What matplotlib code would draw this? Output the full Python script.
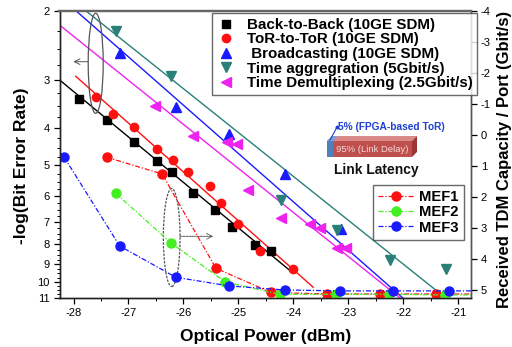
import matplotlib
matplotlib.use('Agg')
import matplotlib.pyplot as plt
from matplotlib.patches import Ellipse, Polygon
from matplotlib.lines import Line2D
from matplotlib.ticker import FixedLocator, FixedFormatter, NullFormatter

plt.rcParams['font.family'] = ['Liberation Sans', 'DejaVu Sans']

# ---------------- data ----------------
b2b_x = [-27.90, -27.40, -26.90, -26.49, -26.20, -25.82, -25.42, -25.11, -24.70, -24.40]
b2b_y = [3.37, 3.82, 4.35, 4.87, 5.21, 5.88, 6.52, 7.20, 8.02, 8.32]

tor_x = [-27.60, -27.29, -26.90, -26.49, -26.19, -25.91, -25.51, -25.31, -25.00, -24.60, -24.00]
tor_y = [3.33, 3.67, 3.98, 4.53, 4.84, 5.21, 5.64, 6.26, 7.08, 8.31, 9.26]

bc_x = [-27.16, -26.14, -25.17, -24.15, -23.14]
bc_y = [2.56, 3.54, 4.15, 5.26, 7.31]

agg_x = [-27.23, -26.22, -24.23, -23.20, -22.25, -21.23]
agg_y = [2.24, 2.94, 6.14, 7.34, 8.80, 9.27]

dmx_x = [-26.52, -25.83, -25.20, -25.02, -24.82, -24.22, -23.70, -23.51, -23.20, -23.04]
dmx_y = [3.51, 4.20, 4.34, 4.41, 5.77, 6.83, 7.09, 7.27, 8.17, 8.15]

# linear-fit lines (start / end)
b2b_fit_x = [-28.26, -24.06]
b2b_fit_y = [3.00, 9.35]
tor_fit_x = [-27.96, -23.64]
tor_fit_y = [2.94, 10.32]
bc_fit_x = [-27.94, -22.01]
bc_fit_y = [2.00, 11.00]
agg_fit_x = [-27.76, -21.39]
agg_fit_y = [2.00, 10.55]
dmx_fit_x = [-28.25, -22.06]
dmx_fit_y = [2.17, 11.00]

# MEF curves (right axis)
mef1_x = [-27.40, -26.39, -25.41, -24.41, -23.39, -22.43, -21.41, -20.50]
mef1_y = [0.71, 1.25, 4.30, 5.08, 5.13, 5.13, 5.13, 5.13]
mef2_x = [-27.23, -26.22, -25.24, -24.25, -23.23, -22.26, -21.25, -20.50]
mef2_y = [1.88, 3.49, 4.74, 5.14, 5.14, 5.14, 5.16, 5.16]
mef3_x = [-28.17, -27.16, -26.14, -25.17, -24.16, -23.16, -22.19, -21.17, -20.50]
mef3_y = [0.71, 3.58, 4.59, 4.87, 5.00, 5.03, 5.03, 5.03, 5.03]

left_ticks = [2, 3, 4, 5, 6, 7, 8, 9, 10, 11]
right_ticks = [-4, -3, -2, -1, 0, 1, 2, 3, 4, 5]
x_ticks = [-28, -27, -26, -25, -24, -23, -22, -21]

series_labels = ['Back-to-Back (10GE SDM)', 'ToR-to-ToR (10GE SDM)', ' Broadcasting (10GE SDM)',
                 'Time aggregration (5Gbit/s)', 'Time Demultiplexing (2.5Gbit/s)']
mef_labels = ['MEF1', 'MEF2', 'MEF3']

# ---------------- layout ----------------
W, H = 512, 347
AX_L, AX_R, AX_T, AX_B = 59.5, 471.0, 11.5, 298.0

def axf(px, py):
    return ((px - AX_L) / (AX_R - AX_L), (AX_B - py) / (AX_B - AX_T))

def ff(px, py):
    return (px / W, 1 - py / H)

C_B2B, C_TOR, C_BC, C_AGG, C_DMX = '#000000', '#ff1010', '#1a1aff', '#2a8078', '#ee22ee'
C_G = '#44ee22'

fig = plt.figure(figsize=(W / 100, H / 100), dpi=100)
ax = fig.add_axes([AX_L / W, 1 - AX_B / H, (AX_R - AX_L) / W, (AX_B - AX_T) / H])
ax.set_yscale('log')
ax.set_xlim(-28.255, -20.77)
ax.set_ylim(11, 2)

lw_fit = 1.0
ax.plot(b2b_fit_x, b2b_fit_y, color=C_B2B, lw=lw_fit)
ax.plot(tor_fit_x, tor_fit_y, color=C_TOR, lw=lw_fit)
ax.plot(bc_fit_x, bc_fit_y, color=C_BC, lw=lw_fit)
ax.plot(agg_fit_x, agg_fit_y, color=C_AGG, lw=lw_fit)
ax.plot(dmx_fit_x, dmx_fit_y, color=C_DMX, lw=lw_fit)

ax.plot(b2b_x, b2b_y, ls='none', marker='s', ms=5.5, color=C_B2B)
ax.plot(tor_x, tor_y, ls='none', marker='o', ms=6, color=C_TOR)
ax.plot(bc_x, bc_y, ls='none', marker='^', ms=7, color=C_BC)
ax.plot(agg_x, agg_y, ls='none', marker='v', ms=7, color=C_AGG)
ax.plot(dmx_x, dmx_y, ls='none', marker='<', ms=7, color=C_DMX)

ax.yaxis.set_major_locator(FixedLocator(left_ticks))
ax.yaxis.set_major_formatter(FixedFormatter([str(t) for t in left_ticks]))
minors = [v / 4 for v in range(8, 44) if v % 4 != 0]
ax.yaxis.set_minor_locator(FixedLocator(minors))
ax.yaxis.set_minor_formatter(NullFormatter())
ax.xaxis.set_major_locator(FixedLocator(x_ticks))
ax.xaxis.set_major_formatter(FixedFormatter([str(t) for t in x_ticks]))
ax.xaxis.set_minor_locator(FixedLocator([t + 0.5 for t in x_ticks[:-1]] + [-20.5]))
ax.tick_params(axis='both', which='major', direction='out', length=4, width=0.9, labelsize=8, pad=3)
ax.tick_params(axis='both', which='minor', direction='out', length=2.2, width=0.7)
ax.tick_params(axis='y', right=False)
ax.tick_params(axis='x', top=False)

ax2 = ax.twinx()
ax2.set_ylim(5.26, -4.0)
ax2.plot(mef1_x, mef1_y, ls=(0, (4, 1.5, 1, 1.5)), lw=0.9, color=C_TOR, marker='o', ms=6.5)
ax2.plot(mef2_x, mef2_y, ls=(0, (4, 1.5, 1, 1.5)), lw=0.9, color=C_G, marker='o', ms=6.5)
ax2.plot(mef3_x, mef3_y, ls=(0, (4, 1.5, 1, 1.5)), lw=0.9, color=C_BC, marker='o', ms=6.5)
ax2.yaxis.set_major_locator(FixedLocator(right_ticks))
ax2.yaxis.set_major_formatter(FixedFormatter([str(t) for t in right_ticks]))
ax2.tick_params(axis='y', which='major', direction='out', length=4, width=0.9, labelsize=8, pad=3)

for a in (ax, ax2):
    for s in a.spines.values():
        s.set_linewidth(1.0)
        s.set_color('#222222')
    a.spines['top'].set_color('#666666')
    a.spines['top'].set_linewidth(1.6)
    a.spines['right'].set_color('#555555')

# legends
h1 = [Line2D([], [], ls='none', marker='s', ms=5.5, color=C_B2B),
      Line2D([], [], ls='none', marker='o', ms=6, color=C_TOR),
      Line2D([], [], ls='none', marker='^', ms=6.5, color=C_BC),
      Line2D([], [], ls='none', marker='v', ms=6.5, color=C_AGG),
      Line2D([], [], ls='none', marker='<', ms=6.5, color=C_DMX)]
leg1 = ax2.legend(h1, series_labels, loc='upper left', bbox_to_anchor=axf(211.7, 13.3),
                  bbox_transform=ax.transAxes, borderaxespad=0, frameon=True, fancybox=False,
                  prop=dict(weight='bold', size=10.9), handlelength=1.3, handletextpad=0.7,
                  labelspacing=0.04, borderpad=0.3, numpoints=1)
leg1.get_frame().set_edgecolor('#444444')
leg1.get_frame().set_linewidth(1.0)
ax2.add_artist(leg1)

h2 = [Line2D([], [], ls=(0, (4, 1.5, 1, 1.5)), lw=0.9, color=C_TOR, marker='o', ms=6.5),
      Line2D([], [], ls=(0, (4, 1.5, 1, 1.5)), lw=0.9, color=C_G, marker='o', ms=6.5),
      Line2D([], [], ls=(0, (4, 1.5, 1, 1.5)), lw=0.9, color=C_BC, marker='o', ms=6.5)]
leg2 = ax2.legend(h2, mef_labels, loc='upper left', bbox_to_anchor=axf(373.3, 185),
                  bbox_transform=ax.transAxes, borderaxespad=0, frameon=True, fancybox=False,
                  prop=dict(weight='bold', size=10.6), handlelength=2.4, handletextpad=0.35,
                  labelspacing=0.08, borderpad=0.35, numpoints=1)
leg2.get_frame().set_edgecolor('#444444')
leg2.get_frame().set_linewidth(1.0)

# ellipses and arrows
e1 = Ellipse(axf(95.7, 63.3), 15 / (AX_R - AX_L), 100 / (AX_B - AX_T), transform=ax.transAxes,
             fill=False, ec='#555555', lw=0.9, zorder=5)
ax.add_patch(e1)
ax.annotate('', xy=axf(73.3, 61.7), xytext=axf(87.8, 61.7), xycoords='axes fraction',
            arrowprops=dict(arrowstyle='->', color='#555555', lw=0.7, shrinkA=0, shrinkB=0))
e2 = Ellipse(axf(171.7, 237.5), 16.7 / (AX_R - AX_L), 98 / (AX_B - AX_T), transform=ax.transAxes,
             fill=False, ec='#555555', lw=0.9, ls=(0, (2, 1)), zorder=5)
ax.add_patch(e2)
ax.annotate('', xy=axf(213.3, 236.3), xytext=axf(180, 236.3), xycoords='axes fraction',
            arrowprops=dict(arrowstyle='->', color='#555555', lw=0.7, ls=(0, (2, 1)), shrinkA=0, shrinkB=0))

# latency inset (3D bar)
def poly(pts, color, z=6):
    p = Polygon([ff(*q) for q in pts], closed=True, transform=fig.transFigure, fc=color, ec='none', zorder=z)
    fig.add_artist(p)

x0, xb, x1, yt, yb, d = 327, 333, 412, 141, 157, 5
poly([(x0, yt), (x1, yt), (x1 + d, yt - d), (x0 + d, yt - d)], '#d98a88')
poly([(x0, yt), (xb, yt), (xb + d, yt - d), (x0 + d, yt - d)], '#7aa0d8')
poly([(x1, yt), (x1 + d, yt - d), (x1 + d, yb - d), (x1, yb)], '#9a3634')
poly([(xb, yt), (x1, yt), (x1, yb), (xb, yb)], '#c0504d')
poly([(x0, yt), (xb, yt), (xb, yb), (x0, yb)], '#4f81bd')
fig.add_artist(Line2D([ff(330, 140)[0], ff(337, 127)[0]], [ff(330, 140)[1], ff(337, 127)[1]],
                      transform=fig.transFigure, color='#1f3fd0', lw=0.8, zorder=7))
fig.add_artist(Line2D([ff(337, 127)[0]], [ff(337, 127)[1]], transform=fig.transFigure, color='#1f3fd0',
                      marker='o', ms=1.8, zorder=7))
fig.text(*ff(338.5, 126.5), '5% (FPGA-based ToR)', color='#1f3fd0', fontsize=7.3, weight='bold',
         ha='left', va='center', zorder=7)
fig.text(*ff(372, 149.5), '95% (Link Delay)', color='#f6d8d8', fontsize=6.8,
         ha='center', va='center', zorder=7)
fig.text(*ff(376, 170), 'Link Latency', color='#111111', fontsize=10, weight='bold',
         ha='center', va='center', zorder=7)

# axis labels
fig.text(*ff(265.5, 336.5), 'Optical Power (dBm)', fontsize=12.5, weight='bold', ha='center', va='center')
fig.text(*ff(22, 166), '-log(Bit Error Rate)', fontsize=12.5, weight='bold', ha='center', va='center',
         rotation=90)
fig.text(*ff(504, 159), 'Received TDM Capacity / Port (Gbit/s)', fontsize=12, weight='bold',
         ha='center', va='center', rotation=90)

fig.savefig('out.png', dpi=100)
